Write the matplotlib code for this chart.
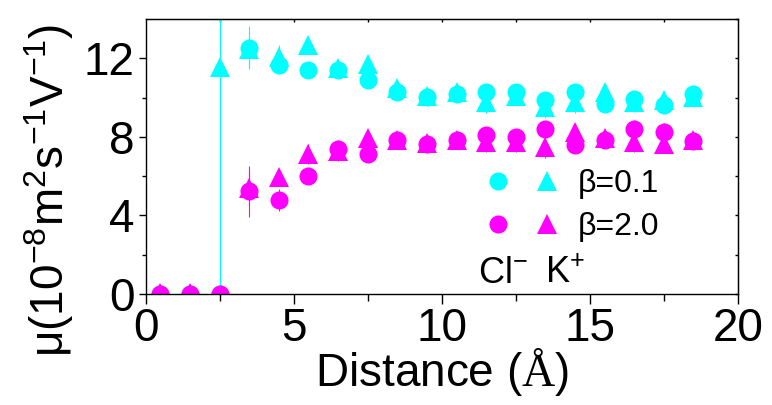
import numpy as np
import matplotlib
matplotlib.use("Agg")
import matplotlib.pyplot as plt
from matplotlib.legend_handler import HandlerTuple

# ------------------------------------------------------
# fonts / mathtext
# ------------------------------------------------------
plt.rcParams['font.family'] = ['Liberation Sans', 'DejaVu Sans']
plt.rcParams['mathtext.fontset'] = 'custom'
plt.rcParams['mathtext.sf'] = 'Liberation Sans'
plt.rcParams['mathtext.rm'] = 'Liberation Serif'
plt.rcParams['mathtext.default'] = 'sf'

# ------------------------------------------------------
# data
# ------------------------------------------------------
distance = [0.5, 1.5, 2.5, 3.5, 4.5, 5.5, 6.5, 7.5, 8.5, 9.5,
            10.5, 11.5, 12.5, 13.5, 14.5, 15.5, 16.5, 17.5, 18.5]

# beta = 0.1
cl_b01 = [0, 0, 0, 12.55, 11.64, 11.42, 11.39, 10.88, 10.29, 10.05,
          10.2, 10.29, 10.29, 9.86, 10.29, 9.69, 9.94, 9.6, 10.2]
cl_b01_err = [0, 0, 0, 1.1, 0.45, 0.3, 0.3, 0.3, 0.3, 0.3,
              0.3, 0.3, 0.3, 0.3, 0.3, 0.3, 0.3, 0.3, 0.3]
k_b01 = [0, 0, 11.56, 12.45, 12.06, 12.66, 11.5, 11.73, 10.5, 10.1,
         10.3, 9.78, 10.1, 9.52, 9.78, 10.3, 9.78, 9.86, 10.03]
k_b01_err = [0, 0, 13.0, 0.9, 0.6, 0.4, 0.4, 0.4, 0.4, 0.4,
             0.4, 0.55, 0.4, 0.55, 0.55, 0.4, 0.5, 0.4, 0.5]

# beta = 2.0
cl_b20 = [0, 0, 0, 5.24, 4.78, 6.0, 7.4, 7.12, 7.83, 7.65,
          7.83, 8.08, 8.0, 8.42, 7.57, 7.83, 8.42, 8.25, 7.8]
cl_b20_err = [0, 0, 0, 1.3, 0.55, 0.3, 0.3, 0.3, 0.3, 0.3,
              0.3, 0.3, 0.3, 0.3, 0.3, 0.3, 0.45, 0.45, 0.3]
k_b20 = [0.05, 0.05, np.nan, 5.39, 5.96, 7.12, 7.3, 7.95, 7.83, 7.7,
         7.83, 7.75, 7.75, 7.49, 8.25, 7.92, 7.75, 7.66, 7.85]
k_b20_err = [0, 0, 0, 0.87, 0.4, 0.5, 0.55, 0.4, 0.4, 0.4,
             0.4, 0.5, 0.5, 0.55, 0.4, 0.4, 0.5, 0.5, 0.4]

cyan = '#00FFFF'
magenta = '#FF00FF'

# ------------------------------------------------------
# figure
# ------------------------------------------------------
fig = plt.figure(figsize=(7.72, 4.05), dpi=100)
ax = fig.add_axes([0.1887, 0.274, 0.7669, 0.679])

def serie(y, err, color, marker, ms):
    return ax.errorbar(distance, y, yerr=err, fmt=marker, ms=ms, mew=0,
                       color=color, ecolor=color, elinewidth=0.8,
                       capsize=4, capthick=0.8)

c1 = serie(cl_b01, cl_b01_err, cyan, 'o', 13)
t1 = serie(k_b01, k_b01_err, cyan, '^', 15)
c2 = serie(cl_b20, cl_b20_err, magenta, 'o', 13)
t2 = serie(k_b20, k_b20_err, magenta, '^', 15)

ax.set_xlim(0, 20)
ax.set_ylim(0, 14)
ax.set_xticks([0, 5, 10, 15, 20])
ax.set_xticks([2.5, 7.5, 12.5, 17.5], minor=True)
ax.set_yticks([0, 4, 8, 12])
ax.set_yticks([2, 6, 10], minor=True)

for s in ax.spines.values():
    s.set_linewidth(1.0)

ax.tick_params(axis='both', which='both', direction='out', width=1.0)
ax.tick_params(axis='y', which='major', length=5, pad=3, labelsize=33)
ax.tick_params(axis='y', which='minor', length=3)
ax.tick_params(axis='x', which='major', length=7, pad=2, labelsize=33)
ax.tick_params(axis='x', which='minor', length=5)

# small inward ticks on top / right
sec_y = ax.secondary_yaxis('right')
sec_y.set_yticks([0, 2, 4, 6, 8, 10, 12, 14])
sec_y.tick_params(direction='in', length=2.5, width=1.0, labelright=False)
sec_x = ax.secondary_xaxis('top')
sec_x.set_xticks([2.5, 5, 7.5, 10, 12.5, 15, 17.5])
sec_x.tick_params(direction='in', length=2.5, width=1.0, labeltop=False)

ax.set_xlabel('Distance ($\\mathrm{Å}$)', fontsize=33, labelpad=-3)
fig.text(0.0635, 0.531, 'μ(10$^{-8}$m$^{2}$s$^{-1}$V$^{-1}$)', rotation=90,
         fontsize=33, ha='center', va='center')

# legend: markers only (no error bars in the key)
ax.legend(handles=[(c1[0], t1[0]), (c2[0], t2[0])], labels=['β=0.1', 'β=2.0'],
          handler_map={tuple: HandlerTuple(ndivide=None, pad=0.88)},
          frameon=False, fontsize=23, handlelength=2.19, handletextpad=0.64,
          labelspacing=0.4, borderpad=0, borderaxespad=0,
          loc='upper left', bbox_to_anchor=(0.577, 0.454))

ax.text(0.561, 0.04, 'Cl$^{-}$', transform=ax.transAxes, fontsize=26,
        va='baseline', ha='left')
ax.text(0.674, 0.04, 'K$^{+}$', transform=ax.transAxes, fontsize=26,
        va='baseline', ha='left')

fig.savefig('out.png', dpi=100)
